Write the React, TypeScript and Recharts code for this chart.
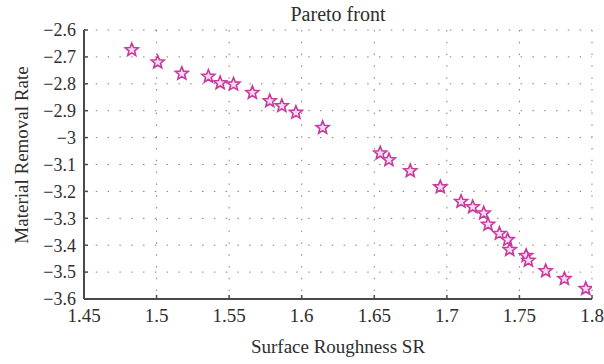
import React from 'react'
import { ScatterChart, Scatter, XAxis, YAxis, CartesianGrid, Label } from 'recharts'

const surfaceRoughness = [
  1.4829, 1.5008, 1.5174, 1.5357, 1.5438, 1.553, 1.566, 1.578, 1.5863, 1.596,
  1.6144, 1.6541, 1.6601, 1.6748, 1.6955, 1.7098, 1.7178, 1.7254, 1.7284, 1.7362,
  1.7419, 1.7433, 1.7546, 1.7562, 1.7681, 1.781, 1.7957,
]
const removalRate = [
  -2.674, -2.72, -2.762, -2.773, -2.797, -2.802, -2.833, -2.864, -2.882, -2.907,
  -2.963, -3.058, -3.083, -3.124, -3.184, -3.238, -3.258, -3.281, -3.323, -3.357,
  -3.38, -3.417, -3.439, -3.457, -3.496, -3.525, -3.562,
]
const xTicks = [1.45, 1.5, 1.55, 1.6, 1.65, 1.7, 1.75, 1.8]
const yTicks = [-3.6, -3.5, -3.4, -3.3, -3.2, -3.1, -3, -2.9, -2.8, -2.7, -2.6]

const data = surfaceRoughness.map((x, i) => ({ x, y: removalRate[i] }))

const FONT = '"Liberation Serif", "DejaVu Serif", serif'
const AXIS = '#4a4a4a'
const STAR = '#c8399e'
const TEXT = '#2e2e2e'

function starPath(cx: number, cy: number, r: number, ri: number) {
  let d = ''
  for (let i = 0; i < 10; i++) {
    const rad = i % 2 === 0 ? r : ri
    const a = -Math.PI / 2 + (i * Math.PI) / 5
    d += `${i === 0 ? 'M' : 'L'}${(cx + rad * Math.cos(a)).toFixed(2)},${(cy + rad * Math.sin(a)).toFixed(2)}`
  }
  return d + 'Z'
}

const StarShape = (props: any) => {
  const { cx, cy } = props
  if (cx == null || cy == null) return null
  return <path d={starPath(cx, cy, 6.8, 3)} fill="#f6dcee" stroke={STAR} strokeWidth={1.6} />
}

const fmt = (v: number) => String(v).replace('-', '\u2212')

export default function App() {
  return (
    <div style={{ position: 'absolute', left: 0, top: 0, width: 604, height: 364, background: '#fff' }}>
      <ScatterChart width={604} height={364} margin={{ top: 30, right: 12, bottom: 0, left: 0 }}>
        <CartesianGrid stroke="#808080" strokeDasharray="1.5 10.3" strokeWidth={1} />
        <XAxis
          type="number"
          dataKey="x"
          domain={[1.45, 1.8]}
          ticks={xTicks}
          interval={0}
          height={65}
          stroke={AXIS}
          axisLine={{ stroke: AXIS, strokeWidth: 2 }}
          tickLine={{ stroke: AXIS, strokeWidth: 1.5 }}
          tickSize={-4}
          tickMargin={14}
          tick={{ fill: TEXT, fontSize: 19, fontFamily: FONT }}
          allowDataOverflow
        >
          <Label
            content={({ viewBox }: any) => (
              <text x={viewBox.x + viewBox.width / 2} y={353} textAnchor="middle" fill={TEXT} fontSize={19} fontFamily={FONT}>
                Surface Roughness SR
              </text>
            )}
          />
        </XAxis>
        <YAxis
          type="number"
          dataKey="y"
          domain={[-3.6, -2.6]}
          ticks={yTicks}
          interval={0}
          width={84}
          stroke={AXIS}
          axisLine={{ stroke: AXIS, strokeWidth: 2 }}
          tickLine={{ stroke: AXIS, strokeWidth: 1.5 }}
          tickSize={-4}
          tickMargin={12}
          tick={{ fill: TEXT, fontSize: 18, fontFamily: FONT }}
          tickFormatter={fmt}
          allowDataOverflow
        >
          <Label
            content={() => (
              <text x={28} y={155} transform="rotate(-90 28 155)" textAnchor="middle" fill={TEXT} fontSize={19} fontFamily={FONT}>
                Material Removal Rate
              </text>
            )}
          />
        </YAxis>
        <Scatter data={data} shape={<StarShape />} isAnimationActive={false} />
        <text x={338} y={21} textAnchor="middle" fill={TEXT} fontSize={20} fontFamily={FONT}>
          Pareto front
        </text>
      </ScatterChart>
    </div>
  )
}
